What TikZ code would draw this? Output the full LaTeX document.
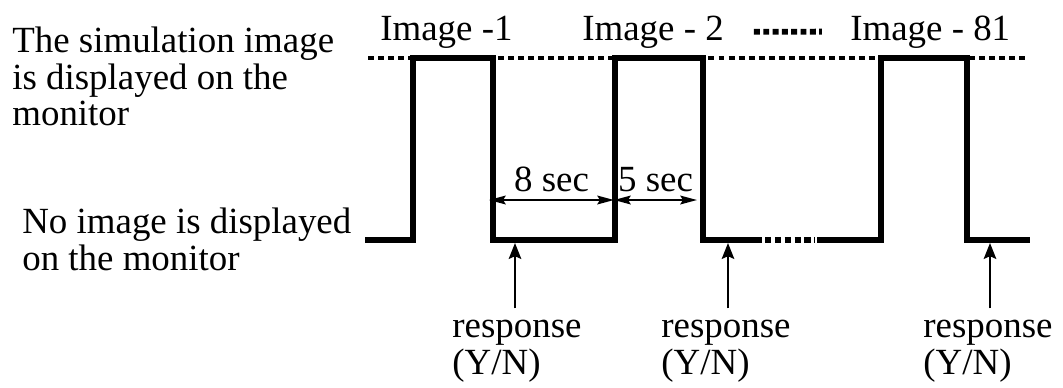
\documentclass[tikz,border=0pt]{standalone}
\usepackage{fontspec}
\setmainfont{Liberation Serif}
\usetikzlibrary{arrows.meta}

\begin{document}
\begin{tikzpicture}[x=0.02cm,y=-0.02cm]
\tikzstyle{txt}=[inner sep=0pt, align=left, font=\fontsize{21}{20.7}\selectfont]
\tikzstyle{signal}=[line width=3.2pt, line join=miter]
\tikzstyle{level}=[line width=1.8pt, dash pattern=on 3.4pt off 2.3pt]
\tikzstyle{gap}=[line width=3.2pt, dash pattern=on 3.6pt off 2pt]
\tikzstyle{span}=[line width=1.1pt, {Stealth[length=9.5pt,width=5pt,inset=1.5pt]}-{Stealth[length=9.5pt,width=5pt,inset=1.5pt]}]
\tikzstyle{resp}=[line width=1.5pt, -{Stealth[length=9pt,width=7pt,inset=1.5pt]}]
\useasboundingbox (0,0) rectangle (1063,387);

% the two levels
\node[txt, anchor=north west] (high) at (12,27) {The simulation image\\is displayed on the\\monitor};
\node[txt, anchor=north west] (low) at (22,208) {No image is displayed\\on the monitor};

\node[txt, anchor=base west] (img1) at (380,40) {Image -1};
\node[txt, anchor=base west] (img2) at (582,40) {Image - 2};
\node[txt, anchor=base west] (img81) at (850,40) {Image - 81};
\draw[line width=3.4pt, dash pattern=on 3.4pt off 1.9pt, shorten <=17pt, shorten >=16pt] (img2.east) -- (img81.west);

\coordinate (top0) at (368,58);
\coordinate (top1) at (1025,58);
\draw[level] (top0) -- (top1);

% the signal
\draw[signal] (365,240) -- (413,240) -- (413,58) -- (493,58) -- (493,240) -- (615,240)
  -- (615,58) -- (703,58) -- (703,240) -- (762,240);
\draw[gap] (765,240) -- (815,240);
\draw[signal] (817,240) -- (881,240) -- (881,58) -- (967,58) -- (967,240) -- (1030,240);

% time between images
\coordinate (t1) at (489,200);
\coordinate (t2) at (614,200);
\coordinate (t3) at (697,200);
\draw[span] (t1) -- (t2) node[midway, above=4pt, txt] (eight) {8 sec};
\draw[span] (t2) -- (t3) node[midway, above=4pt, txt] (five) {5 sec};

% responses
\node[txt, anchor=base] (resp1) at (517,374) {response\\(Y/N)};
\node[txt, anchor=base] (resp2) at (726,374) {response\\(Y/N)};
\node[txt, anchor=base] (resp3) at (988,374) {response\\(Y/N)};
\coordinate (up1) at (515,243);
\coordinate (up2) at (728,243);
\coordinate (up3) at (990,243);
\draw[resp] ([yshift=6.5pt]resp1.north -| up1) -- (up1);
\draw[resp] ([yshift=6.5pt]resp2.north -| up2) -- (up2);
\draw[resp] ([yshift=6.5pt]resp3.north -| up3) -- (up3);
\end{tikzpicture}
\end{document}
